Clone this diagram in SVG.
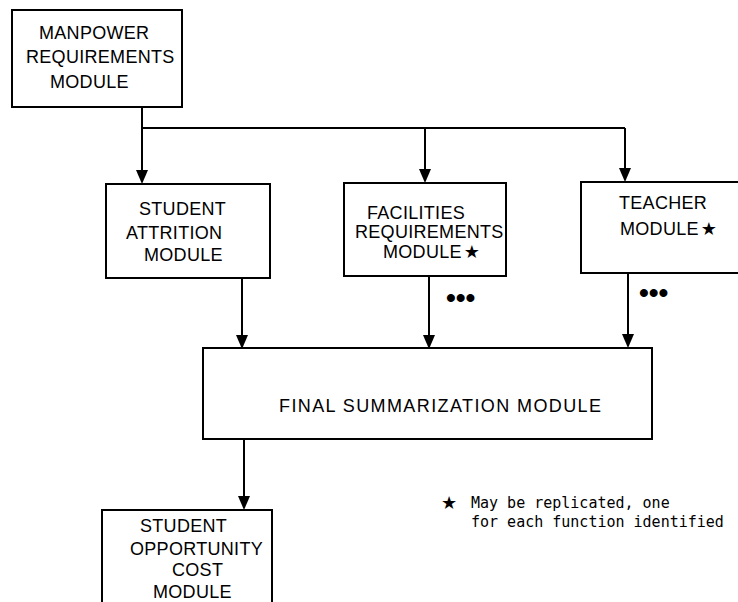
<svg xmlns="http://www.w3.org/2000/svg" width="738" height="602" viewBox="0 0 738 602">
<style>
.box{fill:#fff;stroke:#000;stroke-width:2}
.lbl{font-family:"Liberation Sans","DejaVu Sans",sans-serif;font-size:18px;fill:#000;letter-spacing:0.3px}
.ln{fill:none;stroke:#000;stroke-width:2}
.ah{fill:#000}
.star{font-family:"DejaVu Sans",sans-serif;font-size:18px}
.dots{font-family:"Liberation Sans","DejaVu Sans",sans-serif;font-size:28px;font-weight:bold;fill:#000}
.note{font-family:"DejaVu Sans Mono","Liberation Mono",monospace;font-size:15px;fill:#000}
</style>
<rect width="738" height="602" fill="#fff"/>
<g id="connectors">
<path class="ln" d="M142,107 V172"/>
<path class="ln" d="M142,128 H625"/>
<path class="ln" d="M425,128 V171"/>
<path class="ln" d="M625,128 V170"/>
<path class="ln" d="M242,278 V337"/>
<path class="ln" d="M429,276 V337"/>
<path class="ln" d="M628,273 V336"/>
<path class="ln" d="M244,439 V498"/>
<path class="ah" d="M136,170 L148,170 L142,184 Z"/>
<path class="ah" d="M419,169 L431,169 L425,183 Z"/>
<path class="ah" d="M619,168 L631,168 L625,182 Z"/>
<path class="ah" d="M236,335 L248,335 L242,349 Z"/>
<path class="ah" d="M423,335 L435,335 L429,349 Z"/>
<path class="ah" d="M622,334 L634,334 L628,348 Z"/>
<path class="ah" d="M238,496 L250,496 L244,510 Z"/>
</g>
<g id="manpower">
<rect class="box" x="12" y="10" width="170" height="97"/>
<text class="lbl" x="39" y="39">MANPOWER</text>
<text class="lbl" x="26" y="63">REQUIREMENTS</text>
<text class="lbl" x="50" y="88">MODULE</text>
</g>
<g id="attrition">
<rect class="box" x="106" y="184" width="164" height="94"/>
<text class="lbl" x="139" y="215">STUDENT</text>
<text class="lbl" x="126" y="239">ATTRITION</text>
<text class="lbl" x="144" y="261">MODULE</text>
</g>
<g id="facilities">
<rect class="box" x="344" y="183" width="162" height="93"/>
<text class="lbl" x="367" y="219">FACILITIES</text>
<text class="lbl" x="355" y="238">REQUIREMENTS</text>
<text class="lbl" x="383" y="258">MODULE<tspan class="star" dx="2">★</tspan></text>
<text class="dots" x="446" y="307">•••</text>
</g>
<g id="teacher">
<rect class="box" x="581" y="182" width="170" height="91"/>
<text class="lbl" x="619" y="209">TEACHER</text>
<text class="lbl" x="620" y="235">MODULE<tspan class="star" dx="2">★</tspan></text>
<text class="dots" x="639" y="302">•••</text>
</g>
<g id="final">
<rect class="box" x="203" y="348" width="449" height="91"/>
<text class="lbl" x="279" y="412" style="letter-spacing:1.4px">FINAL SUMMARIZATION MODULE</text>
</g>
<g id="opportunity">
<rect class="box" x="102" y="510" width="170" height="100"/>
<text class="lbl" x="140" y="532">STUDENT</text>
<text class="lbl" x="130" y="555">OPPORTUNITY</text>
<text class="lbl" x="172" y="576">COST</text>
<text class="lbl" x="153" y="598">MODULE</text>
</g>
<g id="note">
<text class="star" x="441" y="509">★</text>
<text class="note" x="471" y="508">May be replicated, one</text>
<text class="note" x="471" y="527">for each function identified</text>
</g>
</svg>
